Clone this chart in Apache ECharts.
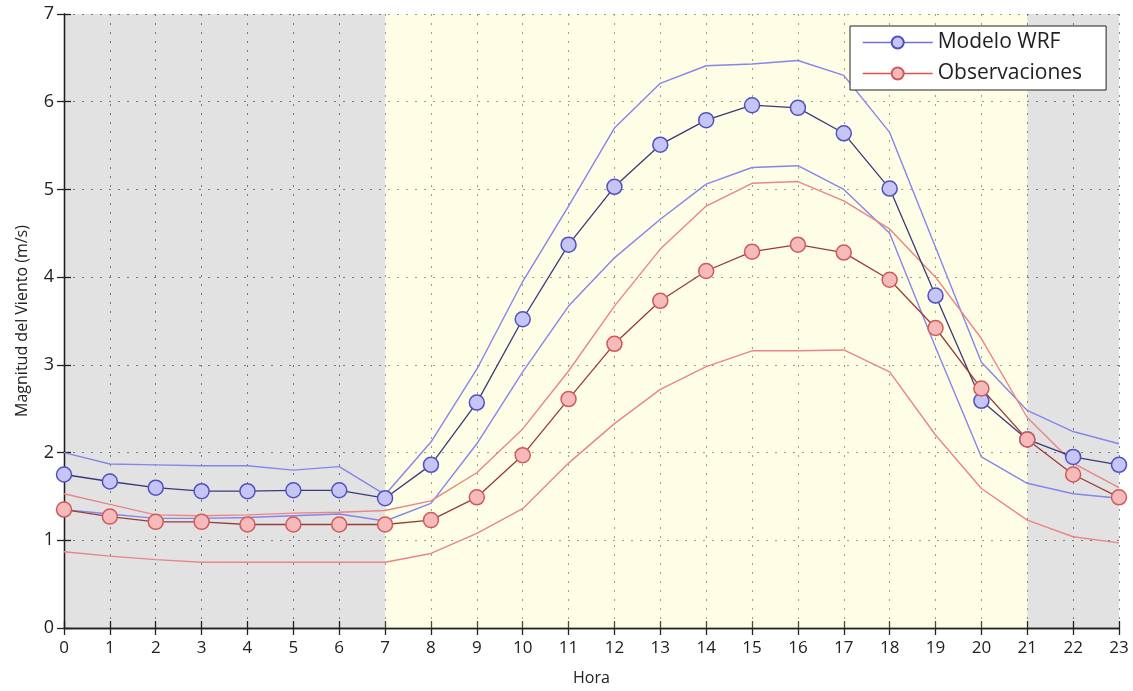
<!DOCTYPE html>
<html>
<head>
<meta charset="utf-8">
<script src="https://cdn.jsdelivr.net/npm/echarts@6/dist/echarts.min.js"></script>
<style>
html,body{margin:0;padding:0;background:#fff;}
#chart{width:1133px;height:691px;}
</style>
</head>
<body>
<div id="chart"></div>
<script>
// Hours (x categories as numeric values)
const hours = [0,1,2,3,4,5,6,7,8,9,10,11,12,13,14,15,16,17,18,19,20,21,22,23];
const xTicks = hours;
const yTicks = [0,1,2,3,4,5,6,7];

// Modelo WRF
const wrfMean  = [1.75,1.67,1.60,1.56,1.56,1.57,1.57,1.48,1.86,2.57,3.52,4.37,5.03,5.51,5.79,5.96,5.93,5.64,5.01,3.79,2.59,2.15,1.95,1.86];
const wrfUpper = [2.00,1.87,1.86,1.85,1.85,1.80,1.84,1.52,2.12,2.95,3.95,4.81,5.70,6.21,6.41,6.43,6.47,6.30,5.65,4.34,3.03,2.48,2.24,2.10];
const wrfLower = [1.35,1.30,1.25,1.25,1.26,1.28,1.30,1.22,1.42,2.10,2.92,3.67,4.22,4.66,5.06,5.25,5.27,5.00,4.50,3.20,1.95,1.65,1.53,1.48];

// Observaciones
const obsMean  = [1.35,1.27,1.21,1.21,1.18,1.18,1.18,1.18,1.23,1.49,1.97,2.61,3.24,3.73,4.07,4.29,4.37,4.28,3.97,3.42,2.73,2.15,1.75,1.49];
const obsUpper = [1.53,1.41,1.29,1.28,1.29,1.31,1.32,1.34,1.45,1.77,2.27,2.93,3.67,4.32,4.81,5.07,5.09,4.87,4.55,4.00,3.30,2.40,1.88,1.60];
const obsLower = [0.87,0.82,0.78,0.75,0.75,0.75,0.75,0.75,0.85,1.08,1.36,1.88,2.33,2.72,2.98,3.16,3.16,3.17,2.92,2.20,1.59,1.23,1.04,0.97];

// Shaded periods (night / day)
const nightPeriods = [[0,7],[21,23]];
const dayPeriods = [[7,21]];

const pair = (arr) => hours.map((h,i) => [h, arr[i]]);

const FONT = '"Open Sans", "Noto Sans", sans-serif';
const TXT = '#222';

const chart = echarts.init(document.getElementById('chart'));

const axisCommon = {
  axisLine: {show:true, lineStyle:{color:'#222', width:1.3}},
  axisTick: {show:true, inside:true, length:7, lineStyle:{color:'#222', width:1.3}},
};

const envelope = (name, data, color) => ({
  name, type:'line', data: pair(data), symbol:'none', z:3,
  lineStyle:{color, width:1.4}, silent:true
});

const meanSeries = (name, data, lineColor, fill, border) => ({
  name, type:'line', data: pair(data), symbol:'circle', symbolSize:15, z:4,
  showSymbol:true,
  lineStyle:{color:lineColor, width:1.3},
  itemStyle:{color:fill, borderColor:border, borderWidth:1.5}
});

const gridLine = {show:true, lineStyle:{color:'#8a8a8a', type:[2,7], width:1}};

const option = {
  animation:false,
  backgroundColor:'#fff',
  grid:{left:64, right:14, top:14, bottom:61, containLabel:false},
  legend:{
    orient:'vertical', left:850, top:26,
    backgroundColor:'#fff', borderColor:'#222', borderWidth:1,
    padding:[6,24,6,12], itemGap:10, itemWidth:70, itemHeight:15,
    textStyle:{fontFamily:FONT, fontSize:21, color:TXT},
    data:[
      {name:'Modelo WRF', lineStyle:{color:'#7070e0', width:1.4}},
      {name:'Observaciones', lineStyle:{color:'#e05050', width:1.4}}
    ]
  },
  xAxis:[
    Object.assign({
      type:'value', min:0, max:23, interval:1, position:'bottom',
      name:'Hora', nameLocation:'middle', nameGap:42,
      nameTextStyle:{fontFamily:FONT, fontSize:16, color:TXT},
      axisLabel:{fontFamily:FONT, fontSize:17, color:TXT, margin:12,
        formatter:(v)=> xTicks.includes(v) ? String(v) : ''},
      splitLine:gridLine
    }, axisCommon),
    Object.assign({
      type:'value', min:0, max:23, interval:1, position:'top',
      axisLabel:{show:false}, splitLine:{show:false}
    }, axisCommon)
  ],
  yAxis:[
    Object.assign({
      type:'value', min:0, max:7, interval:1, position:'left',
      name:'Magnitud del Viento (m/s)', nameLocation:'middle', nameGap:34,
      nameTextStyle:{fontFamily:FONT, fontSize:16, color:TXT},
      axisLabel:{fontFamily:FONT, fontSize:18, color:TXT, margin:10,
        formatter:(v)=> yTicks.includes(v) ? String(v) : ''},
      splitLine:gridLine
    }, axisCommon),
    Object.assign({
      type:'value', min:0, max:7, interval:1, position:'right',
      axisLabel:{show:false}, splitLine:{show:false}
    }, axisCommon)
  ],
  series:[
    {
      name:'fondo', type:'line', data:[], silent:true, z:1,
      markArea:{
        silent:true,
        data: nightPeriods.map(p => [{xAxis:p[0], itemStyle:{color:'rgba(0,0,0,0.115)'}},{xAxis:p[1]}])
          .concat(dayPeriods.map(p => [{xAxis:p[0], itemStyle:{color:'rgba(248,245,130,0.2)'}},{xAxis:p[1]}]))
      }
    },
    envelope('WRF superior', wrfUpper, '#8585ea'),
    envelope('WRF inferior', wrfLower, '#8585ea'),
    envelope('Obs superior', obsUpper, '#ea8585'),
    envelope('Obs inferior', obsLower, '#ea8585'),
    meanSeries('Modelo WRF', wrfMean, '#3a3a7a', '#c6c6f6', '#5050c0'),
    meanSeries('Observaciones', obsMean, '#9a3c3c', '#f6baba', '#d05a5a')
  ]
};
chart.setOption(option);
</script>
</body>
</html>
